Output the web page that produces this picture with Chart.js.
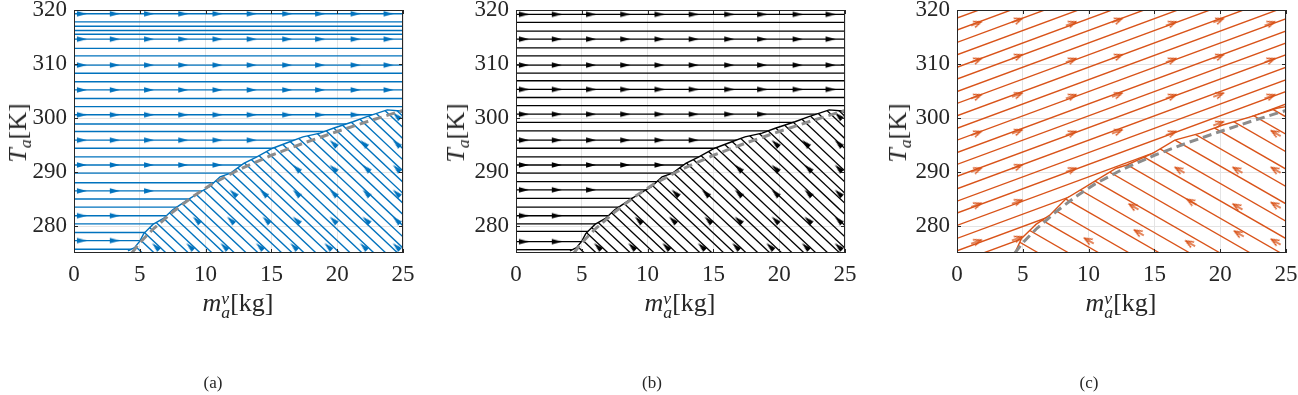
<!DOCTYPE html>
<html>
<head>
<meta charset="utf-8">
<title>Streamlines</title>
<script src="https://cdn.jsdelivr.net/npm/chart.js@4.4.1/dist/chart.umd.min.js"></script>
<style>
  body { margin: 0; background: #fff; }
  #fig { position: relative; width: 1298px; height: 395px; overflow: hidden;
         font-family: 'Liberation Serif', 'Times New Roman', serif; color: #262626; }
  #fig canvas { position: absolute; top: 0; }
  .ylab { position: absolute; top: 133px; font-size: 26px; line-height: 1; white-space: nowrap;
          transform: translate(-50%, -50%) rotate(-90deg); }
  .xlab { position: absolute; top: 290px; font-size: 26px; line-height: 1; white-space: nowrap;
          transform: translateX(-50%); }
  .cap { position: absolute; top: 373px; font-size: 17px; transform: translateX(-50%); }
  .sb { font-size: 0.68em; font-style: italic; vertical-align: -0.3em; }
  .st { display: inline-block; vertical-align: -0.42em; line-height: 0.82; font-size: 0.68em; font-style: italic; }
  .st span { display: block; }
</style>
</head>
<body>
<div id="fig">
  <canvas id="pa" width="430" height="300" style="left:0px"></canvas>
  <canvas id="pb" width="430" height="300" style="left:442px"></canvas>
  <canvas id="pc" width="430" height="300" style="left:883px"></canvas>

  <div class="ylab" style="left:20px"><i>T</i><span class="sb">a</span>[K]</div>
  <div class="ylab" style="left:458px"><i>T</i><span class="sb">a</span>[K]</div>
  <div class="ylab" style="left:900px"><i>T</i><span class="sb">a</span>[K]</div>

  <div class="xlab" style="left:238px"><i>m</i><span class="st"><span>v</span><span>a</span></span>[kg]</div>
  <div class="xlab" style="left:680px"><i>m</i><span class="st"><span>v</span><span>a</span></span>[kg]</div>
  <div class="xlab" style="left:1121px"><i>m</i><span class="st"><span>v</span><span>a</span></span>[kg]</div>

  <div class="cap" style="left:213px">(a)</div>
  <div class="cap" style="left:652px">(b)</div>
  <div class="cap" style="left:1089px">(c)</div>
</div>

<script>
// axes
const xTicks = [0, 5, 10, 15, 20, 25];
const yTicks = [280, 290, 300, 310, 320];

// grey dashed curve, same in all three panels
const satX = [4.4, 5.0, 6.0, 7.5, 9.0, 10.5, 12.5, 15.0, 17.5, 20.0, 22.5, 25.0];
const satT = [275.0, 276.9, 279.4, 282.6, 285.4, 287.8, 290.4, 293.1, 295.4, 297.5, 299.5, 301.4];

// (a),(b): solid streamline that splits the two flows
const edgeX_ab = [4.1, 4.6, 5.0, 5.3, 6.0, 6.8, 7.5, 8.6, 9.6, 10.3, 11.1, 11.9, 12.9, 13.9, 15.1, 16.4, 17.4, 18.7, 19.7, 21.2, 22.2, 23.8, 24.8, 25.0];
const edgeT_ab = [275.4, 276.0, 277.2, 278.6, 280.3, 281.4, 283.0, 284.8, 286.3, 287.3, 289.1, 289.8, 291.6, 292.8, 294.4, 295.6, 296.5, 297.2, 298.1, 299.3, 300.2, 301.5, 301.3, 300.9];

// (a),(b): horizontal streamlines (T levels)
const levelsA = [319.3, 317.8, 317.0, 316.2, 315.5, 314.6, 312.9, 311.5, 309.8, 308.3, 306.7, 305.2, 303.6, 302.1, 300.6, 298.9, 297.5, 295.9, 294.4, 292.8, 291.3, 289.8, 288.0, 286.5, 285.0, 283.5, 281.9, 280.4, 278.8, 277.3, 275.7];
const levelsB = [319.2, 317.7, 316.1, 314.6, 313.0, 311.5, 309.8, 308.3, 306.9, 305.3, 303.8, 302.3, 300.7, 299.2, 297.6, 295.9, 294.4, 292.8, 291.3, 289.8, 288.2, 286.7, 285.1, 283.5, 281.9, 280.4, 279.0, 277.1, 275.6];

// (a),(b): arrow columns and [T, how many arrows] per arrowed row
const arrowColsAB = [0.6, 3.1, 5.7, 8.3, 10.9, 13.5, 16.2, 18.7, 21.4, 23.9];
const arrowRowsA = [[319.3, 10], [314.6, 10], [309.8, 10], [305.2, 10], [300.6, 9], [295.9, 6], [291.3, 5], [286.5, 3], [281.9, 2], [277.3, 2]];
const arrowRowsB = [[319.2, 10], [314.6, 10], [309.8, 10], [305.3, 10], [300.7, 8], [295.9, 6], [291.3, 5], [286.7, 3], [281.9, 2], [277.1, 2]];

// (a),(b): diagonal streamlines below the split, x where they reach T = 275
const slopeAB = -2.3;   // K per kg
const feetAB = [5.2, 6.1, 7.0, 7.8, 8.7, 9.6, 10.5, 11.4, 12.2, 13.1, 14.0, 14.9, 15.8, 16.6, 17.5, 18.4, 19.3, 20.2, 21.0, 21.9, 22.8, 23.7, 24.6, 25.4, 26.3, 27.2, 28.1, 29.0, 29.8, 30.7, 31.6, 32.5, 33.4, 34.2, 35.1, 36.0, 36.9];
const lowArrowsAB = [
  [276.2, [6.2, 8.8, 11.4, 14.1, 16.7, 19.3, 22.0, 24.5]],
  [281.1, [9.3, 11.9, 14.6, 16.9, 19.7, 22.2, 24.5]],
  [286.1, [12.1, 14.4, 16.9, 19.7, 22.2, 24.5]],
  [290.7, [16.9, 19.7, 22.2, 24.5]],
  [295.3, [19.7, 22.0, 24.5]],
  [300.4, [24.5]]
];

// (c)
const edgeX_c = [4.4, 4.9, 5.7, 6.0, 7.05, 8.3, 9.8, 10.6, 12.1, 12.9, 14.9, 16.55, 18.5, 20.2, 22.3, 24.3, 25.0];
const edgeT_c = [275.0, 277.7, 279.6, 280.3, 282.0, 285.1, 287.3, 288.5, 290.7, 291.3, 293.5, 295.9, 297.2, 298.7, 300.2, 301.8, 302.1];
const slopeUpC = 0.9;   // rising lines
const leftTC = [273.2, 275.4, 277.7, 280.1, 282.4, 284.6, 286.9, 289.2, 291.4, 293.6, 295.9, 298.1, 300.4, 302.7, 304.9, 307.2, 309.4, 311.7, 314.0, 316.3, 318.5];
const slopeLowC = -1.4; // falling lines
const feetC = [6.2, 8.5, 10.8, 13.1, 15.4, 17.7, 20.0, 22.3, 24.6, 26.9, 29.2, 31.5, 33.8, 36.1, 38.4, 40.7, 43.0];
const upArrowColsC = [1.5, 4.6, 8.7, 12.2, 16.3, 19.9, 23.8];
const upArrowTsC = [
  [317.5, 310.7, 304.0, 297.2, 290.4, 283.9, 277.1],
  [318.1, 311.4, 304.3, 297.5, 291.0, 284.5, 277.7],
  [317.5, 310.7, 304.0, 297.2, 290.4],
  [318.1, 311.4, 304.3, 297.5],
  [317.5, 310.7, 304.0, 297.2],
  [318.1, 311.4, 304.3, 299.0],
  [317.5, 310.7, 304.0]
];
const lowArrowsC = [[10.0, 277.3], [13.8, 278.8], [17.7, 276.8], [21.4, 278.6], [24.2, 277.1],
  [13.4, 283.6], [17.8, 284.5], [21.3, 283.6], [24.2, 283.9],
  [16.9, 290.4], [21.3, 290.4], [24.2, 290.4], [24.2, 297.2]];

const BLUE = '#0072BD', BLACK = '#000000', ORANGE = '#D95319';
const gridColor = '#e4e4e4';
const tickFont = { family: "'Liberation Serif', 'Times New Roman', serif", size: 23 };

function pts(xs, ts) { return xs.map((x, i) => ({ x, y: ts[i] })); }

function arrowHead(color, filled) {
  const c = document.createElement('canvas');
  c.width = 12; c.height = 8;
  const g = c.getContext('2d');
  if (filled) {
    g.fillStyle = color;
    g.beginPath(); g.moveTo(1, 1.3); g.lineTo(11, 4); g.lineTo(1, 6.7); g.closePath(); g.fill();
  } else {
    g.strokeStyle = color; g.lineWidth = 1.4;
    g.beginPath(); g.moveTo(3, 0.8); g.lineTo(11, 4); g.lineTo(3, 7.2); g.stroke();
    g.beginPath(); g.moveTo(0, 4); g.lineTo(11, 4); g.stroke();
  }
  return c;
}

// screen angle (deg) of a direction given in data units
function dirAngle(chart, dx, dT) {
  const { x, y } = chart.scales;
  const px = x.getPixelForValue(dx) - x.getPixelForValue(0);
  const py = y.getPixelForValue(300 + dT) - y.getPixelForValue(300);
  return Math.atan2(py, px) * 180 / Math.PI;
}

function stream(data, color, region, width) {
  return { data, region, showLine: true, borderColor: color, borderWidth: width || 1.4,
           pointRadius: 0, pointHoverRadius: 0 };
}

function arrowSet(data, img, dx, dT) {
  return { data, showLine: false, pointStyle: img, pointRadius: 5, pointHoverRadius: 5,
           pointRotation: c => dirAngle(c.chart, dx, dT) };
}

// clip a streamline to the side of the split line it belongs to
function regionClip(ex, et) {
  return {
    id: 'regionClip',
    beforeDatasetDraw(chart, args) {
      const ds = chart.data.datasets[args.index];
      if (!ds.region) return;
      const { ctx, chartArea: a, scales: { x, y } } = chart;
      const edgeY = ds.region === 'above' ? a.top - 5 : a.bottom + 5;
      ctx.save();
      ctx.beginPath();
      ctx.moveTo(a.left - 5, y.getPixelForValue(et[0]));
      ex.forEach((v, i) => ctx.lineTo(x.getPixelForValue(v), y.getPixelForValue(et[i])));
      ctx.lineTo(a.right + 5, y.getPixelForValue(et[et.length - 1]));
      ctx.lineTo(a.right + 5, edgeY);
      ctx.lineTo(a.left - 5, edgeY);
      ctx.closePath();
      ctx.clip();
    },
    afterDatasetDraw(chart, args) {
      if (chart.data.datasets[args.index].region) chart.ctx.restore();
    }
  };
}

// box with inward ticks
const axesBox = {
  id: 'axesBox',
  afterDatasetsDraw(chart) {
    const { ctx, chartArea: a, scales: { x, y } } = chart;
    ctx.save();
    ctx.strokeStyle = '#262626';
    ctx.lineWidth = 1;
    ctx.strokeRect(Math.round(a.left) + 0.5, Math.round(a.top) + 0.5,
                   Math.round(a.width) - 1, Math.round(a.height) - 1);
    ctx.beginPath();
    x.ticks.forEach(t => {
      const p = Math.round(x.getPixelForValue(t.value)) + 0.5;
      ctx.moveTo(p, a.bottom); ctx.lineTo(p, a.bottom - 4);
      ctx.moveTo(p, a.top); ctx.lineTo(p, a.top + 4);
    });
    y.ticks.forEach(t => {
      const p = Math.round(y.getPixelForValue(t.value)) + 0.5;
      ctx.moveTo(a.left, p); ctx.lineTo(a.left + 4, p);
      ctx.moveTo(a.right, p); ctx.lineTo(a.right - 4, p);
    });
    ctx.stroke();
    ctx.restore();
  }
};

function makePanel(id, color, edgeX, edgeT, arrows, lines) {
  const datasets = [
    { data: pts(satX, satT), showLine: true, borderColor: '#8c8c8c', borderWidth: 3,
      borderDash: [9, 5], pointRadius: 0, pointHoverRadius: 0 },
    ...arrows,
    stream(pts(edgeX, edgeT), color),
    ...lines
  ];
  new Chart(document.getElementById(id), {
    type: 'scatter',
    data: { datasets },
    options: {
      responsive: false,
      animation: false,
      devicePixelRatio: 1,
      events: [],
      layout: { padding: { left: 0, top: 10, right: 27, bottom: 17 } },
      plugins: { legend: { display: false }, tooltip: { enabled: false } },
      scales: {
        x: {
          type: 'linear', min: 0, max: 25,
          afterBuildTicks: s => { s.ticks = xTicks.map(v => ({ value: v })); },
          afterFit: s => { s.height = 30; s.paddingLeft = 0; s.paddingRight = 0; },
          grid: { color: gridColor, drawTicks: false },
          border: { display: false },
          ticks: { font: tickFont, color: '#262626', padding: 8, maxRotation: 0, autoSkip: false }
        },
        y: {
          type: 'linear', min: 275, max: 320,
          afterBuildTicks: s => { s.ticks = yTicks.map(v => ({ value: v })); },
          afterFit: s => { s.width = 74; s.paddingTop = 0; s.paddingBottom = 0; },
          grid: { color: gridColor, drawTicks: false },
          border: { display: false },
          ticks: { font: tickFont, color: '#262626', padding: 7, autoSkip: false }
        }
      }
    },
    plugins: [regionClip(edgeX, edgeT), axesBox]
  });
}

function flatRows(cols, rows) {
  return rows.flatMap(([T, n]) => cols.slice(0, n).map(x => ({ x, y: T })));
}
function lowRows(rows) {
  return rows.flatMap(([T, xs]) => xs.map(x => ({ x, y: T })));
}

// (a)
const headA = arrowHead(BLUE, true);
makePanel('pa', BLUE, edgeX_ab, edgeT_ab,
  [arrowSet(flatRows(arrowColsAB, arrowRowsA), headA, 1, 0),
   arrowSet(lowRows(lowArrowsAB), headA, -1, -slopeAB)],
  levelsA.map(T => stream([{ x: 0, y: T }, { x: 25, y: T }], BLUE, 'above'))
    .concat(feetAB.map(f => stream([{ x: f, y: 275 }, { x: f - 25, y: 275 - 25 * slopeAB }], BLUE, 'below'))));

// (b)
const headB = arrowHead(BLACK, true);
makePanel('pb', BLACK, edgeX_ab, edgeT_ab,
  [arrowSet(flatRows(arrowColsAB, arrowRowsB), headB, 1, 0),
   arrowSet(lowRows(lowArrowsAB), headB, -1, -slopeAB)],
  levelsB.map(T => stream([{ x: 0, y: T }, { x: 25, y: T }], BLACK, 'above', 1.3))
    .concat(feetAB.map(f => stream([{ x: f, y: 275 }, { x: f - 25, y: 275 - 25 * slopeAB }], BLACK, 'below', 1.3))));

// (c)
const headC = arrowHead(ORANGE, false);
makePanel('pc', ORANGE, edgeX_c, edgeT_c,
  [arrowSet(upArrowColsC.flatMap((x, i) => upArrowTsC[i].map(T => ({ x, y: T }))), headC, 1, slopeUpC),
   arrowSet(lowArrowsC.map(([x, T]) => ({ x, y: T })), headC, -1, -slopeLowC)],
  leftTC.map(T => stream([{ x: 0, y: T }, { x: 30, y: T + 30 * slopeUpC }], ORANGE, 'above'))
    .concat(feetC.map(f => stream([{ x: f, y: 275 }, { x: f - 30, y: 275 - 30 * slopeLowC }], ORANGE, 'below'))));
</script>
</body>
</html>
